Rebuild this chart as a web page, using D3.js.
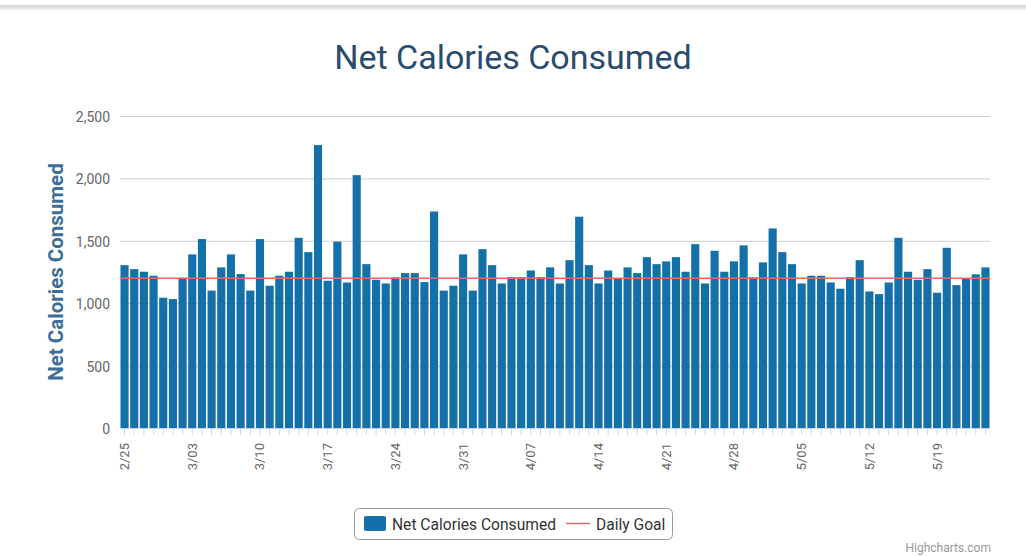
<!DOCTYPE html>
<html>
<head>
<meta charset="utf-8">
<script src="https://cdn.jsdelivr.net/npm/d3@7"></script>
<style>
  body { margin: 0; background: #fff; }
  svg { display: block; font-family: Roboto, "Open Sans", sans-serif; }
</style>
</head>
<body>
<svg id="chart"></svg>
<script>
// daily values, 2/25 .. 5/24 (2020)
const startDate = "2020-02-25";
const calories = [
  1305, 1273, 1252, 1220, 1044, 1033, 1204, 1391, 1514, 1101,
  1287, 1391, 1233, 1101, 1514, 1140, 1220, 1252, 1524, 1409,
  2267, 1180, 1493, 1166, 2026, 1313, 1188, 1158, 1207, 1241,
  1241, 1169, 1735, 1101, 1140, 1391, 1101, 1433, 1305, 1158,
  1209, 1209, 1262, 1209, 1287, 1158, 1345, 1693, 1305, 1158,
  1262, 1198, 1287, 1241, 1369, 1313, 1335, 1369, 1252, 1473,
  1158, 1420, 1252, 1335, 1463, 1207, 1327, 1599, 1409, 1313,
  1158, 1220, 1220, 1166, 1116, 1209, 1345, 1094, 1073, 1166,
  1524, 1252, 1188, 1273, 1084, 1444, 1145, 1201, 1231, 1287
];
const dailyGoal = 1200;
const yTicks = [0, 500, 1000, 1500, 2000, 2500];
const seriesNames = ["Net Calories Consumed", "Daily Goal"];

const width = 1026, height = 556;
const margin = { left: 120, right: 36, top: 116, bottom: 128 };

const parse = d3.timeParse("%Y-%m-%d");
const fmt = d3.timeFormat("%-m/%d");
const t0 = parse(startDate);
const days = calories.map((v, i) => ({ date: d3.timeDay.offset(t0, i), value: v }));

const svg = d3.select("#chart").attr("width", width).attr("height", height);

// browser-ish top shadow strip
const grad = svg.append("defs").append("linearGradient")
  .attr("id", "topbar").attr("x1", 0).attr("x2", 0).attr("y1", 0).attr("y2", 1);
grad.append("stop").attr("offset", "0%").attr("stop-color", "#d4d4d4");
grad.append("stop").attr("offset", "100%").attr("stop-color", "#f2f2f2");
svg.append("rect").attr("x", 0).attr("y", 5).attr("width", width).attr("height", 5)
  .attr("fill", "url(#topbar)");

const x = d3.scaleBand()
  .domain(days.map((d) => fmt(d.date)))
  .range([margin.left, width - margin.right])
  .paddingInner(0.16)
  .paddingOuter(0.05);

const y = d3.scaleLinear()
  .domain([0, 2500])
  .range([height - margin.bottom, margin.top]);

// title
svg.append("text")
  .attr("x", 513).attr("y", 69)
  .attr("text-anchor", "middle")
  .style("font-size", "34px")
  .style("fill", "#2a4b6c")
  .text("Net Calories Consumed");

// gridlines
svg.append("g")
  .selectAll("line")
  .data(yTicks.filter((t) => t > 0))
  .enter()
  .append("line")
  .attr("x1", margin.left).attr("x2", width - margin.right)
  .attr("y1", (d) => y(d) + 0.5).attr("y2", (d) => y(d) + 0.5)
  .attr("stroke", "#cccccc");

// y axis labels
svg.append("g")
  .selectAll("text")
  .data(yTicks)
  .enter()
  .append("text")
  .attr("x", 110)
  .attr("y", (d) => y(d) + 6)
  .attr("text-anchor", "end")
  .style("font-size", "14px")
  .style("fill", "#666")
  .text((d) => d3.format(",")(d));

svg.append("text")
  .attr("transform", `translate(63,${(y(0) + y(2500)) / 2}) rotate(-90)`)
  .attr("text-anchor", "middle")
  .style("font-size", "20.5px")
  .style("font-weight", "bold")
  .style("fill", "#3b6e98")
  .text("Net Calories Consumed");

// bars
svg.append("g")
  .selectAll("rect")
  .data(days)
  .enter()
  .append("rect")
  .attr("x", (d) => x(fmt(d.date)))
  .attr("y", (d) => y(d.value))
  .attr("width", x.bandwidth())
  .attr("height", (d) => y(0) - y(d.value))
  .attr("fill", "#1470a8");

// x axis line + daily ticks
svg.append("line")
  .attr("x1", margin.left).attr("x2", width - margin.right)
  .attr("y1", y(0) + 0.5).attr("y2", y(0) + 0.5)
  .attr("stroke", "#ccd6eb");

svg.append("g")
  .selectAll("line")
  .data(days)
  .enter()
  .append("line")
  .attr("x1", (d) => x(fmt(d.date)) + x.bandwidth() / 2)
  .attr("x2", (d) => x(fmt(d.date)) + x.bandwidth() / 2)
  .attr("y1", y(0)).attr("y2", y(0) + 7)
  .attr("stroke", "#ccd6eb");

// weekly labels
svg.append("g")
  .selectAll("text")
  .data(days.filter((d, i) => i % 7 === 0))
  .enter()
  .append("text")
  .attr("transform", (d) => `translate(${x(fmt(d.date)) + x.bandwidth() / 2 + 4.5},${y(0) + 15}) rotate(-90)`)
  .attr("text-anchor", "end")
  .style("font-size", "13px")
  .style("fill", "#666")
  .text((d) => fmt(d.date));

// daily goal line
svg.append("line")
  .attr("x1", margin.left).attr("x2", width - margin.right)
  .attr("y1", y(dailyGoal)).attr("y2", y(dailyGoal))
  .attr("stroke", "#e8686a")
  .attr("stroke-width", 1.5);

// legend
const legend = svg.append("g");
legend.append("rect")
  .attr("x", 354.5).attr("y", 508.5).attr("width", 318).attr("height", 31)
  .attr("rx", 5)
  .attr("fill", "#fff").attr("stroke", "#999");
legend.append("rect")
  .attr("x", 364).attr("y", 516).attr("width", 22).attr("height", 15).attr("rx", 2)
  .attr("fill", "#1470a8");
legend.append("text")
  .attr("x", 392).attr("y", 530)
  .style("font-size", "15.6px").style("fill", "#333")
  .text(seriesNames[0]);
legend.append("line")
  .attr("x1", 566).attr("x2", 590).attr("y1", 523.5).attr("y2", 523.5)
  .attr("stroke", "#e8686a").attr("stroke-width", 1.5);
legend.append("text")
  .attr("x", 596).attr("y", 530)
  .style("font-size", "15.6px").style("fill", "#333")
  .text(seriesNames[1]);

// credits
svg.append("text")
  .attr("x", 991).attr("y", 552)
  .attr("text-anchor", "end")
  .style("font-size", "12px")
  .style("fill", "#999")
  .text("Highcharts.com");
</script>
</body>
</html>
